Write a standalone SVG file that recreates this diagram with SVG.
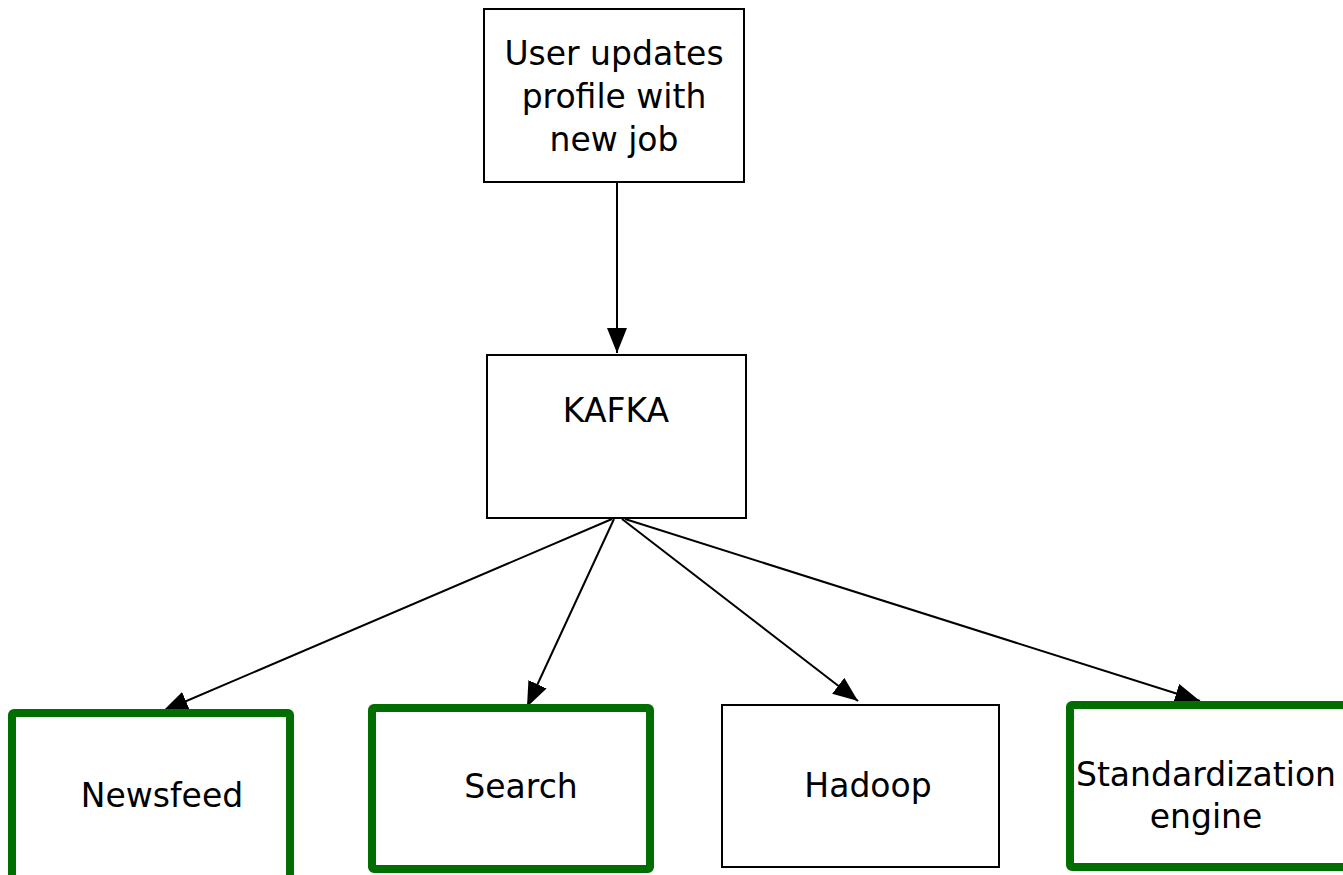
<svg xmlns="http://www.w3.org/2000/svg" width="1343" height="875" viewBox="0 0 1343 875">
<style>
.box{fill:#fff;stroke:#000;stroke-width:2}
.gbox{fill:#fff;stroke:#006e00;stroke-width:8}
.t{font-family:"DejaVu Sans",sans-serif;font-size:33px;fill:#000;text-anchor:middle}
.edge{stroke:#000;stroke-width:2;fill:none;marker-end:url(#arr)}
</style>
<defs>
<marker id="arr" markerUnits="userSpaceOnUse" markerWidth="26" markerHeight="22" refX="25" refY="10" orient="auto">
<path d="M0,0 L25,10 L0,20 Z" fill="#000"/>
</marker>
</defs>
<g id="edges">
<line class="edge" x1="617" y1="182" x2="617" y2="353"/>
<line class="edge" x1="612" y1="519" x2="163" y2="711"/>
<line class="edge" x1="614" y1="519" x2="527" y2="707"/>
<line class="edge" x1="622" y1="519" x2="858" y2="701"/>
<line class="edge" x1="625" y1="519" x2="1200" y2="701"/>
</g>
<g id="user">
<rect class="box" x="484" y="9" width="260" height="173"/>
<text class="t" x="614" y="65">User updates</text>
<text class="t" x="614" y="108">profile with</text>
<text class="t" x="614" y="151">new job</text>
</g>
<g id="kafka">
<rect class="box" x="487" y="355" width="259" height="163"/>
<text class="t" x="616" y="422">KAFKA</text>
</g>
<g id="newsfeed">
<rect class="gbox" x="12" y="713" width="278" height="170" rx="2"/>
<text class="t" x="162" y="807">Newsfeed</text>
</g>
<g id="search">
<rect class="gbox" x="372" y="708" width="278" height="161" rx="2"/>
<text class="t" x="521" y="798">Search</text>
</g>
<g id="hadoop">
<rect class="box" x="722" y="705" width="277" height="162"/>
<text class="t" x="868" y="797">Hadoop</text>
</g>
<g id="standardization">
<rect class="gbox" x="1070" y="705" width="290" height="162" rx="2"/>
<text class="t" x="1206" y="786">Standardization</text>
<text class="t" x="1206" y="828">engine</text>
</g>
</svg>
